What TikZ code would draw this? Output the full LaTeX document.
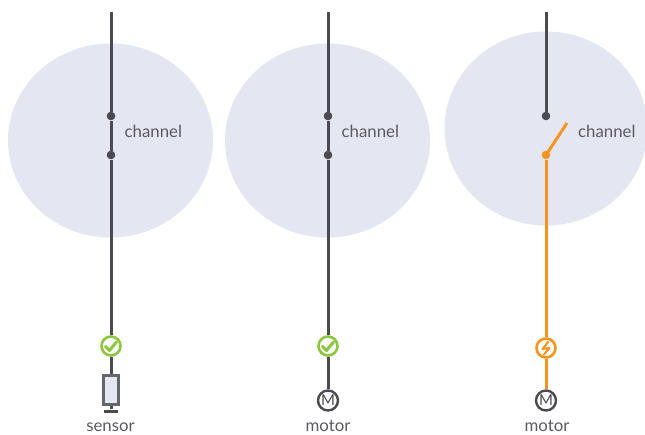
\documentclass[tikz,border=0pt]{standalone}
\usepackage{fontspec}
\setmainfont{Lato}
\usetikzlibrary{shapes.geometric}
\definecolor{zone}{HTML}{E4E6F1}
\definecolor{wire}{HTML}{4A4A50}
\definecolor{live}{HTML}{F7941E}
\definecolor{okg}{HTML}{8CC63F}
\definecolor{txt}{HTML}{5A5B60}
\tikzset{
  x=1pt,y=-1pt,
  zonefill/.style={ellipse,fill=zone,inner sep=0pt},
  dot/.style={circle,fill=#1,inner sep=0pt,minimum size=8.6pt},
  wireline/.style={draw=wire,line width=3pt},
  liveline/.style={draw=live,line width=3pt},
  lab/.style={text=txt,font=\fontsize{16.8}{20}\selectfont,inner sep=0pt},
  status/.style={circle,draw=#1,line width=2.6pt,fill=white,minimum size=19pt,inner sep=0pt},
  glyph/.style={line width=3pt,line cap=round,line join=round},
  motorbox/.style={circle,draw=wire,line width=2.4pt,fill=white,minimum size=20pt,inner sep=0pt,text=wire,font=\fontsize{15}{15}\selectfont},
  sensorbox/.style={rectangle,draw=wire!85!white,line width=2.4pt,fill=zone,minimum width=15pt,minimum height=29pt,inner sep=0pt},
}
\begin{document}
\begin{tikzpicture}
\useasboundingbox (0,0) rectangle (645,434);
\clip (0,0) rectangle (645,434);
% zones
\node[zonefill,minimum width=205pt,minimum height=194pt] (z1) at (110.5,140.5) {};
\node[zonefill,minimum width=205pt,minimum height=194pt] (z2) at (327.5,140.5) {};
\node[zonefill,minimum width=203pt,minimum height=194pt] (z3) at (546,128.5) {};
% first column
\coordinate (t1) at (111,12);
\node[dot=wire] (a1) at (111,116) {};
\node[dot=wire] (b1) at (111,155) {};
\node[status=okg] (s1) at (111,346) {};
\node[sensorbox] (m1) at (111,390) {};
\node[rectangle,fill=wire,minimum width=14pt,minimum height=3pt,inner sep=0pt] (g1) at (111,411) {};
\draw[wireline] (t1) -- (a1) -- (b1) -- (s1) -- (m1) (m1) -- (g1);
\draw[glyph,draw=okg] (105.5,346.5) -- (109.5,350.5) -- (116.5,342);
\node[lab,anchor=west] (c1) at (124.5,131) {channel};
\node[lab,anchor=base] (l1) at (110.5,431.2) {sensor};
% second column
\coordinate (t2) at (328,12);
\node[dot=wire] (a2) at (328,116) {};
\node[dot=wire] (b2) at (328,155) {};
\node[status=okg] (s2) at (328,346) {};
\node[motorbox] (m2) at (328,400.5) {M};
\draw[wireline] (t2) -- (a2) -- (b2) -- (s2) -- (m2);
\draw[glyph,draw=okg] (322.5,346.5) -- (326.5,350.5) -- (333.5,342);
\node[lab,anchor=west] (c2) at (341.5,131) {channel};
\node[lab,anchor=base] (l2) at (328,431.2) {motor};
% third column
\coordinate (t3) at (546,12);
\node[dot=wire] (a3) at (546,116) {};
\node[dot=live] (b3) at (546,155) {};
\coordinate (k3) at (567,123);
\node[status=live] (s3) at (546,348) {};
\node[motorbox] (m3) at (546,400.5) {M};
\draw[wireline] (t3) -- (a3);
\draw[liveline] (b3.center) -- (k3);
\draw[liveline] (b3) -- (s3) -- (m3);
\draw[draw=live,line width=2pt,line join=round] (548.5,341.5) -- (542.5,349) -- (549.5,348) -- (543.5,355);
\node[lab,anchor=west] (c3) at (578,131) {channel};
\node[lab,anchor=base] (l3) at (547,431.2) {motor};
\end{tikzpicture}
\end{document}
